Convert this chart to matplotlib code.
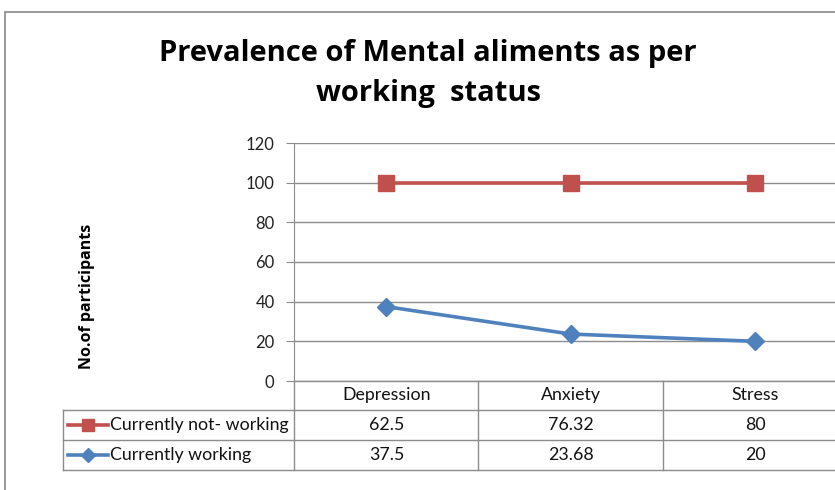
import matplotlib
matplotlib.use("Agg")
import matplotlib.pyplot as plt
from matplotlib.patches import Rectangle
from matplotlib.lines import Line2D

categories = ["Depression", "Anxiety", "Stress"]
not_working = [62.5, 76.32, 80]
working = [37.5, 23.68, 20]
series_names = ["Currently not- working", "Currently working"]
yticks = [0, 20, 40, 60, 80, 100, 120]
title = "Prevalence of Mental aliments as per\nworking  status"
ylabel = "No.of participants"

RED = "#C0504D"
BLUE = "#4F81BD"
GRID = "#8C8C8C"
FONT = "Lato"

W, H = 835, 490
fig = plt.figure(figsize=(W / 100, H / 100), dpi=100)

# outer chart border
fig.patches.append(Rectangle((5 / W, -0.1), 1.2, 1.1 - 12 / H, transform=fig.transFigure,
                             fill=False, edgecolor="#888888", linewidth=1.2))

left_px, right_px, top_px, bot_px = 294, 847, 143, 381
ax = fig.add_axes([left_px / W, 1 - bot_px / H, (right_px - left_px) / W, (bot_px - top_px) / H])

x = list(range(len(categories)))
stacked = [a + b for a, b in zip(working, not_working)]
ax.plot(x, stacked, color=RED, lw=2.6, marker="s", ms=11, mec=RED, mfc=RED, zorder=3, clip_on=False)
ax.plot(x, working, color=BLUE, lw=2.6, marker="D", ms=9, mec=BLUE, mfc=BLUE, zorder=3, clip_on=False)

ax.set_xlim(-0.5, len(categories) - 0.5)
ax.set_ylim(0, 120)
ax.set_yticks(yticks)
ax.set_yticklabels([str(t) for t in yticks], fontsize=12, family=FONT, color="#222222")
ax.set_xticks([])
ax.yaxis.grid(True, color=GRID, lw=1.0)
ax.set_axisbelow(True)
for s in ["top", "right", "bottom"]:
    ax.spines[s].set_visible(False)
ax.spines["left"].set_color(GRID)
ax.tick_params(axis="y", length=6, color=GRID, pad=8)

# data table
ppx = 238.0  # axes height in px
def yf(py):
    return (bot_px - py) / ppx
def xf(px):
    return (px - left_px) / (right_px - left_px)

tr = ax.transAxes
lkw = dict(transform=tr, color=GRID, lw=1.0, clip_on=False)
ax.add_line(Line2D([0, 1.2], [0, 0], **lkw))
for py in [410, 440, 470]:
    ax.add_line(Line2D([xf(63), 1.2], [yf(py), yf(py)], **lkw))
for px in [294, 478, 663]:
    ax.add_line(Line2D([xf(px), xf(px)], [0, yf(470)], **lkw))
ax.add_line(Line2D([xf(63), xf(63)], [yf(410), yf(470)], **lkw))

TS = 12.8
tkw = dict(fontsize=TS, family=FONT, color="#111111", ha="center", va="center")
for i, c in enumerate(categories):
    ax.text(xf(387 + i * 184.3), yf(395), c, transform=tr, **tkw)
    ax.text(xf(387 + i * 184.3), yf(425), f"{not_working[i]:g}", transform=tr, **tkw)
    ax.text(xf(387 + i * 184.3), yf(455), f"{working[i]:g}", transform=tr, **tkw)

for name, col, mk, ms, py in [(series_names[0], RED, "s", 9, 425), (series_names[1], BLUE, "D", 7, 455)]:
    ax.add_line(Line2D([xf(68), xf(108)], [yf(py), yf(py)], transform=tr, color=col, lw=2.6, clip_on=False))
    ax.add_line(Line2D([xf(88)], [yf(py)], transform=tr, color=col, marker=mk, ms=ms, mfc=col, mec=col,
                       lw=0, clip_on=False))
    ax.text(xf(110), yf(py), name, transform=tr, fontsize=TS, family=FONT, color="#111111",
            ha="left", va="center")

fig.text(428 / W, 1 - 73 / H, title, ha="center", va="center", fontsize=21, fontweight="bold",
         family="Open Sans", linespacing=1.5, color="#000000")
fig.text(87 / W, 1 - 296 / H, ylabel, rotation=90, ha="center", va="center", fontsize=11.5,
         fontweight="bold", family="Open Sans", color="#000000")

fig.savefig("out.png", dpi=100)
